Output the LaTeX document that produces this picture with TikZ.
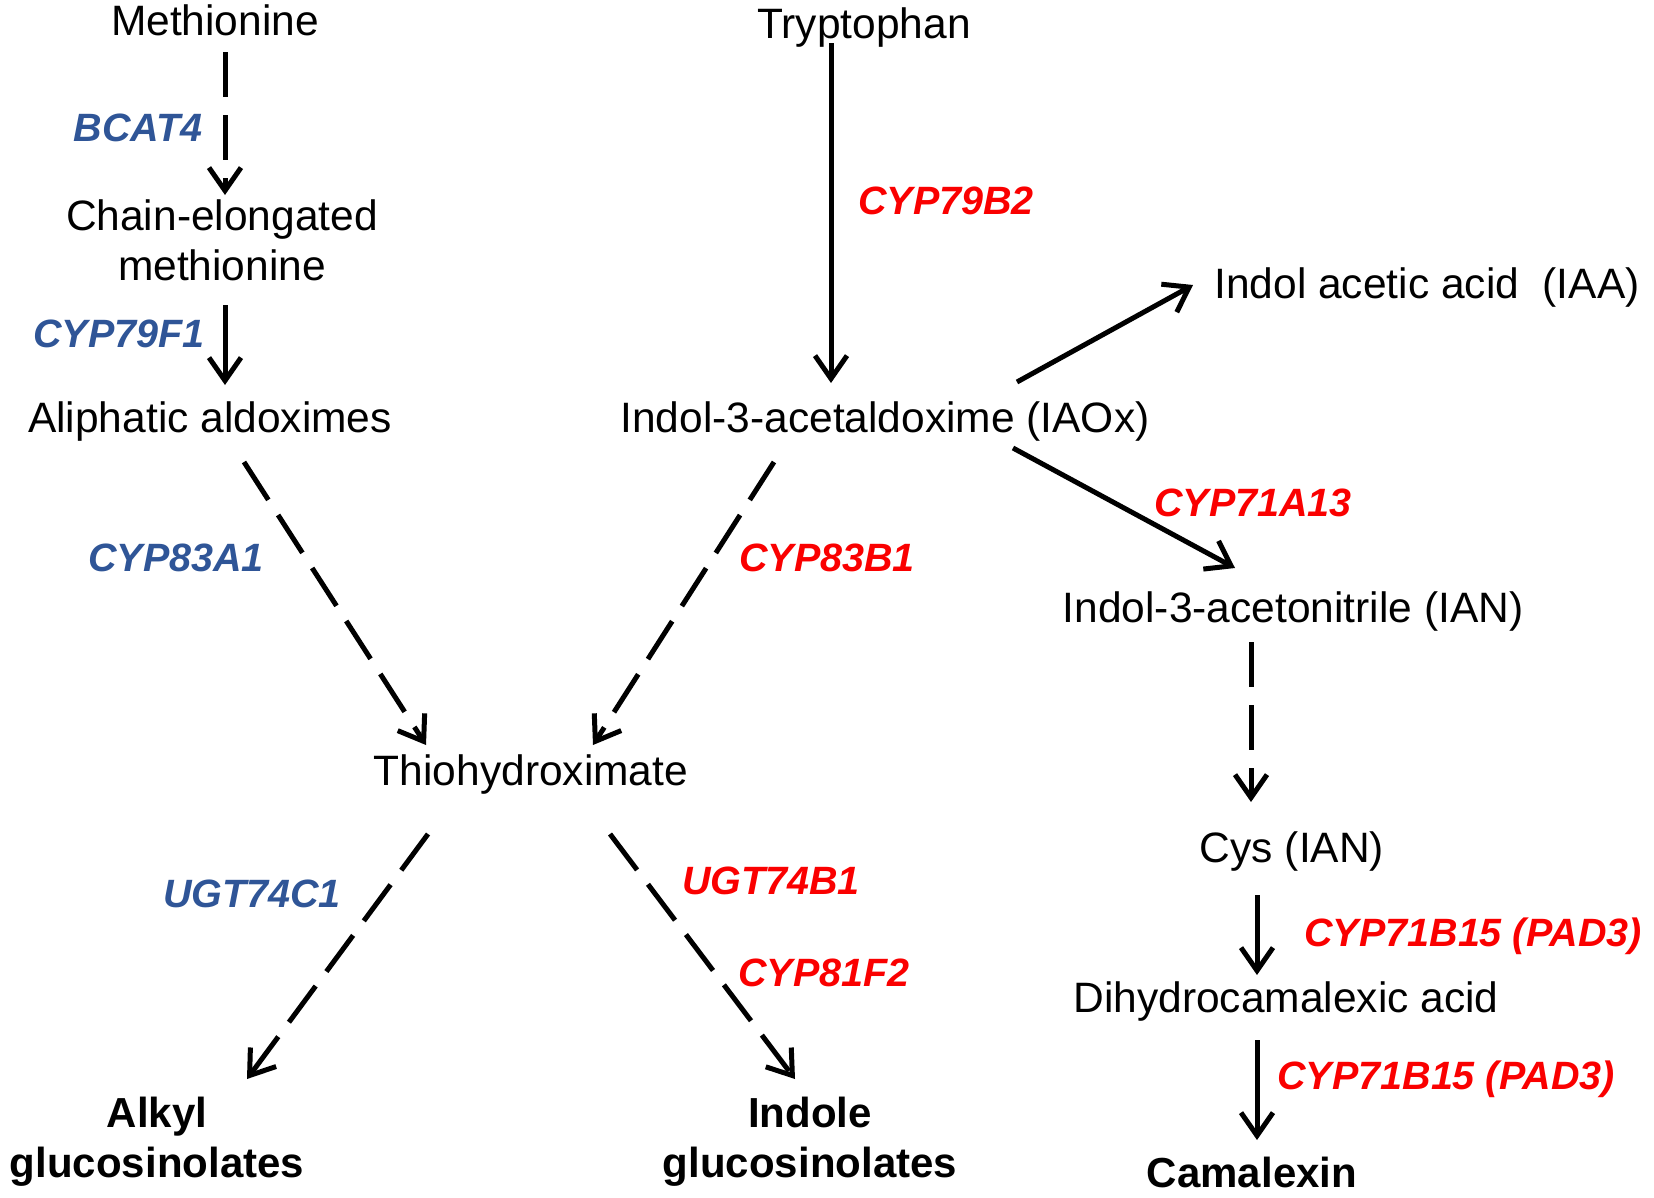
\documentclass[tikz,border=0pt]{standalone}
\usepackage{fontspec}
\setmainfont{Liberation Sans}
\usetikzlibrary{arrows.meta,calc}
\definecolor{geneblue}{RGB}{47,85,151}
\definecolor{genered}{RGB}{250,0,0}
\begin{document}
\begin{tikzpicture}[x=1pt,y=-1pt,
  met/.style={anchor=base,inner sep=0pt,font=\fontsize{42.5}{50}\selectfont,align=center},
  prod/.style={anchor=base,inner sep=0pt,font=\fontsize{42}{50}\selectfont\bfseries,align=center},
  gene/.style={anchor=base,inner sep=0pt,font=\fontsize{39.5}{45}\selectfont\bfseries\itshape},
  bluegene/.style={gene,text=geneblue},
  redgene/.style={gene,text=genered},
  conn/.style={line width=5pt,-{Straight Barb[length=23pt,width=32pt]}},
  dconn/.style={conn,dash pattern=on 45pt off 18pt}
]
\useasboundingbox[fill=white] (0,0) rectangle (1654,1197);

% metabolites (base of multi-line nodes = last line)
\node[met] (meth) at (215,35) {Methionine};
\node[met] (chain) at (222,280) {Chain-elongated\\methionine};
\node[met] (aliph) at (210,432) {Aliphatic aldoximes};
\node[met] (tryp) at (864,38) {Tryptophan};
\node[met] (iaox) at (885,432) {Indol-3-acetaldoxime (IAOx)};
\node[met] (iaa) at (1427,298) {Indol acetic acid\ \ (IAA)};
\node[met] (ian) at (1293,622) {Indol-3-acetonitrile (IAN)};
\node[met] (cys) at (1292,862) {Cys (IAN)};
\node[met] (dihydro) at (1286,1012) {Dihydrocamalexic acid};
\node[met] (thio) at (531,785) {Thiohydroximate};
\node[prod] (camalexin) at (1252,1187) {Camalexin};
\node[prod] (alkyl) at (157,1177) {Alkyl\\glucosinolates};
\node[prod] (indole) at (810,1177) {Indole\\glucosinolates};

% genes
\node[bluegene] (bcat) at (138,141) {BCAT4};
\node[bluegene] (cypf1) at (119,347) {CYP79F1};
\node[bluegene] (cypa1) at (176,571) {CYP83A1};
\node[bluegene] (ugtc) at (252,907) {UGT74C1};
\node[redgene] (cypb2) at (946,214) {CYP79B2};
\node[redgene] (cypb1) at (827,571) {CYP83B1};
\node[redgene] (cypa13) at (1253,516) {CYP71A13};
\node[redgene] (ugtb) at (771,894) {UGT74B1};
\node[redgene] (cypf2) at (824,986) {CYP81F2};
\node[redgene] (pad1) at (1473,946) {CYP71B15 (PAD3)};
\node[redgene] (pad2) at (1446,1089) {CYP71B15 (PAD3)};

% connectors
\draw[dconn] ($(meth.base)+(10,17)$) -- ($(chain.base)+(3,-85)$);
\draw[conn] ($(chain.base)+(3,25)$) -- ($(aliph.base)+(15,-47)$);
\draw[conn] ($(tryp.base)+(-33,5)$) -- ($(iaox.base)+(-54,-49)$);
\draw[conn] ($(iaox.base)+(132,-50)$) -- ($(iaa.base)+(-234,-13)$);
\draw[conn] ($(iaox.base)+(128,16)$) -- ($(ian.base)+(-58,-54)$);
\draw[dconn] ($(ian.base)+(-42,20)$) -- ($(cys.base)+(-41,-60)$);
\draw[conn] ($(cys.base)+(-35,33)$) -- ($(dihydro.base)+(-29,-37)$);
\draw[conn] ($(dihydro.base)+(-29,28)$) -- ($(camalexin.base)+(5,-47)$);
\draw[dconn] ($(aliph.base)+(34,30)$) -- ($(thio.base)+(-105,-40)$);
\draw[dconn] ($(iaox.base)+(-111,30)$) -- ($(thio.base)+(62,-40)$);
\draw[dconn] ($(thio.base)+(-103,49)$) -- ($(alkyl.base)+(90,-98)$);
\draw[dconn] ($(thio.base)+(79,49)$) -- ($(indole.base)+(-15,-98)$);
\end{tikzpicture}
\end{document}
